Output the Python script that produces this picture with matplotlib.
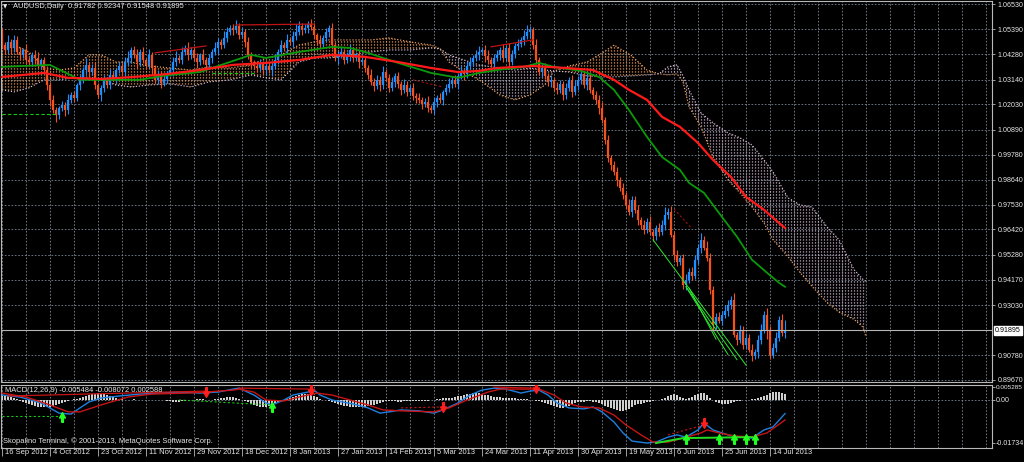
import numpy as np
import matplotlib
matplotlib.use("Agg")
import matplotlib.pyplot as plt
from matplotlib.path import Path
from matplotlib.transforms import blended_transform_factory as blend

plt.rcParams['font.family'] = ['Liberation Sans', 'DejaVu Sans']

# ---------------- data ----------------
date_ticks = [0, 16, 32, 48, 64, 80, 96, 112, 128, 144, 160, 176, 192, 208, 224, 240, 256]
date_labels = ['16 Sep 2012', '4 Oct 2012', '23 Oct 2012', '11 Nov 2012', '29 Nov 2012',
               '18 Dec 2012', '8 Jan 2013', '27 Jan 2013', '14 Feb 2013', '5 Mar 2013',
               '24 Mar 2013', '11 Apr 2013', '30 Apr 2013', '19 May 2013', '6 Jun 2013',
               '25 Jun 2013', '14 Jul 2013']
price_ticks = [1.06530, 1.05390, 1.04280, 1.03140, 1.02030, 1.00890, 0.99780, 0.98640,
               0.97530, 0.96420, 0.95280, 0.94170, 0.93030, 0.90780, 0.89670]
price_grid_extra = [0.91920]
last_price = 0.91895
first_open = 1.0520
macd_ticks = [0.005285, 0.0, -0.01734]
macd_tick_labels = ['0.005285', '0.00', '-0.01734']

closes = [
    1.0469, 1.0447, 1.0483, 1.0456, 1.0492, 1.0438, 1.0425, 1.0447, 1.0402, 1.0393,
    1.0425, 1.0411, 1.0380, 1.0402, 1.0357, 1.0290, 1.0223, 1.0178, 1.0156, 1.0187,
    1.0200, 1.0178, 1.0223, 1.0245, 1.0232, 1.0290, 1.0313, 1.0357, 1.0380, 1.0348,
    1.0366, 1.0290, 1.0245, 1.0277, 1.0313, 1.0290, 1.0335, 1.0322, 1.0357, 1.0375,
    1.0348, 1.0393, 1.0411, 1.0447, 1.0425, 1.0393, 1.0438, 1.0402, 1.0380, 1.0425,
    1.0366, 1.0313, 1.0335, 1.0299, 1.0317, 1.0344, 1.0357, 1.0393, 1.0411, 1.0402,
    1.0438, 1.0456, 1.0425, 1.0447, 1.0411, 1.0393, 1.0425, 1.0402, 1.0380, 1.0411,
    1.0438, 1.0456, 1.0483, 1.0469, 1.0501, 1.0527, 1.0545, 1.0536, 1.0554, 1.0514,
    1.0527, 1.0483, 1.0425, 1.0393, 1.0375, 1.0366, 1.0384, 1.0357, 1.0375, 1.0357,
    1.0375, 1.0402, 1.0438, 1.0469, 1.0456, 1.0492, 1.0483, 1.0510, 1.0527, 1.0554,
    1.0536, 1.0545, 1.0563, 1.0550, 1.0514, 1.0492, 1.0474, 1.0501, 1.0527, 1.0545,
    1.0469, 1.0411, 1.0425, 1.0438, 1.0402, 1.0420, 1.0447, 1.0411, 1.0429, 1.0393,
    1.0402, 1.0366, 1.0335, 1.0304, 1.0286, 1.0313, 1.0290, 1.0348, 1.0322, 1.0277,
    1.0304, 1.0330, 1.0295, 1.0268, 1.0290, 1.0259, 1.0277, 1.0241, 1.0232, 1.0223,
    1.0205, 1.0214, 1.0187, 1.0178, 1.0214, 1.0232, 1.0223, 1.0259, 1.0277, 1.0295,
    1.0313, 1.0295, 1.0330, 1.0348, 1.0339, 1.0375, 1.0393, 1.0411, 1.0425, 1.0438,
    1.0447, 1.0420, 1.0402, 1.0384, 1.0411, 1.0425, 1.0447, 1.0411, 1.0456, 1.0393,
    1.0429, 1.0465, 1.0474, 1.0492, 1.0510, 1.0527, 1.0536, 1.0469, 1.0402, 1.0348,
    1.0366, 1.0330, 1.0304, 1.0313, 1.0277, 1.0268, 1.0295, 1.0245, 1.0277, 1.0313,
    1.0259, 1.0286, 1.0313, 1.0339, 1.0290, 1.0322, 1.0268, 1.0245, 1.0223, 1.0187,
    1.0133, 1.0044, 0.9963, 0.9931, 0.9900, 0.9864, 0.9829, 0.9797, 0.9752, 0.9721,
    0.9775, 0.9730, 0.9685, 0.9663, 0.9640, 0.9676, 0.9631, 0.9614, 0.9649, 0.9631,
    0.9663, 0.9707, 0.9721, 0.9618, 0.9529, 0.9497, 0.9515, 0.9394, 0.9416, 0.9452,
    0.9434, 0.9506, 0.9560, 0.9596, 0.9560, 0.9515, 0.9372, 0.9215, 0.9251, 0.9233,
    0.9260, 0.9278, 0.9304, 0.9327, 0.9170, 0.9147, 0.9192, 0.9125, 0.9156, 0.9103,
    0.9076, 0.9094, 0.9147, 0.9192, 0.9260, 0.9192, 0.9081, 0.9112, 0.9156, 0.9237,
    0.9178, 0.91895,
]

upper_wick = [  # pips
    25, 15, 30, 12, 20, 18, 22, 10, 28, 15, 12, 20, 25, 10, 15, 18, 12, 20, 15, 10,
    18, 12, 25, 15, 20, 10, 22, 15, 30, 12, 18, 25, 10, 15, 20, 12, 28, 15, 10, 20,
    15, 22, 30, 12, 18, 25, 15, 20, 10, 28, 15, 12, 20, 18, 25, 10, 15, 22, 30, 12,
    20, 15, 25, 12, 18, 22, 10, 28, 15, 20, 12, 25, 18, 15, 30, 22, 12, 20, 28, 15,
    25, 12, 20, 15, 10, 18, 22, 15, 12, 20, 18, 25, 15, 22, 12, 28, 15, 20, 35, 25,
    15, 20, 12, 25, 18, 10, 22, 15, 20, 12, 25, 15, 18, 22, 12, 20, 28, 15, 10, 18,
    22, 15, 12, 25, 18, 20, 15, 28, 12, 18, 22, 15, 20, 12, 25, 18, 15, 20, 12, 22,
    15, 18, 25, 12, 20, 15, 22, 10, 18, 25, 15, 20, 12, 28, 15, 18, 22, 12, 20, 25,
    15, 20, 28, 12, 18, 22, 15, 25, 12, 20, 18, 15, 22, 12, 25, 30, 20, 15, 25, 12,
    18, 22, 15, 20, 12, 25, 18, 15, 22, 12, 20, 28, 15, 18, 12, 25, 20, 15, 18, 22,
    25, 15, 20, 12, 18, 22, 15, 20, 12, 28, 18, 15, 22, 12, 20, 18, 25, 12, 15, 20,
    22, 35, 18, 25, 15, 20, 12, 18, 25, 15, 22, 20, 15, 28, 18, 30, 20, 15, 18, 22,
    15, 25, 20, 18, 28, 12, 20, 15, 22, 18, 25, 12, 20, 25, 15, 30, 18, 20, 28, 15,
    25, 45,
]
lower_wick = [  # pips
    15, 20, 12, 25, 18, 10, 22, 15, 20, 12, 18, 25, 15, 20, 12, 22, 28, 15, 30, 20,
    12, 25, 18, 15, 20, 12, 22, 15, 18, 25, 12, 20, 15, 28, 18, 12, 20, 15, 25, 12,
    18, 20, 15, 22, 12, 25, 18, 15, 20, 12, 28, 15, 18, 22, 12, 20, 15, 25, 18, 12,
    20, 15, 22, 18, 12, 25, 15, 20, 18, 12, 22, 15, 25, 18, 12, 20, 15, 22, 12, 18,
    15, 22, 18, 25, 12, 20, 15, 18, 22, 12, 25, 15, 20, 18, 12, 22, 15, 25, 18, 12,
    20, 15, 22, 12, 18, 25, 15, 20, 12, 22, 18, 15, 25, 12, 20, 15, 22, 18, 12, 25,
    15, 20, 18, 12, 22, 15, 25, 18, 12, 20, 15, 22, 18, 25, 12, 20, 15, 18, 22, 12,
    25, 15, 20, 12, 18, 22, 15, 25, 12, 20, 18, 15, 22, 12, 25, 18, 15, 20, 12, 22,
    15, 25, 18, 12, 20, 15, 22, 18, 12, 25, 15, 20, 18, 12, 22, 15, 25, 18, 20, 12,
    22, 15, 18, 25, 12, 20, 15, 22, 18, 12, 25, 15, 20, 18, 12, 22, 15, 20, 18, 25,
    15, 20, 18, 22, 12, 25, 15, 20, 18, 12, 25, 15, 22, 18, 20, 12, 15, 25, 18, 20,
    15, 22, 18, 12, 25, 20, 15, 18, 22, 12, 20, 15, 18, 25, 12, 15, 20, 22, 18, 12,
    20, 15, 25, 18, 12, 22, 15, 20, 18, 12, 25, 15, 30, 18, 15, 40, 20, 15, 18, 12,
    15, 23,
]

# moving averages (bar index, price)
ma_green_bar = [0, 16, 26, 46, 53, 66, 76, 83, 88, 99, 110, 116, 121, 132, 143, 152, 159, 165,
                174, 179, 184, 193, 199, 204, 209, 215, 220, 226, 229, 234, 239, 245, 250, 255, 259, 261]
ma_green = [1.0371, 1.0380, 1.0313, 1.0313, 1.0330, 1.0348, 1.0393, 1.0425, 1.0411, 1.0438,
            1.0461, 1.0456, 1.0438, 1.0389, 1.0344, 1.0322, 1.0344, 1.0357, 1.0371, 1.0389,
            1.0371, 1.0353, 1.0326, 1.0268, 1.0178, 1.0057, 0.9967, 0.9909, 0.9851, 0.9806,
            0.9716, 0.9609, 0.9506, 0.9448, 0.9403, 0.9385]
ma_red_bar = [0, 14, 22, 33, 44, 55, 66, 77, 88, 99, 110, 121, 132, 143, 152, 159, 165, 177,
              188, 197, 204, 209, 215, 220, 226, 232, 237, 243, 248, 254, 259, 261]
ma_red = [1.0326, 1.0344, 1.0322, 1.0317, 1.0326, 1.0339, 1.0357, 1.0380, 1.0389, 1.0402,
          1.0425, 1.0416, 1.0393, 1.0366, 1.0348, 1.0353, 1.0366, 1.0375, 1.0366, 1.0357,
          1.0313, 1.0268, 1.0223, 1.0147, 1.0102, 1.0030, 0.9954, 0.9877, 0.9788, 0.9730,
          0.9671, 0.9649]

# Ichimoku cloud spans (bar index, price)
cloud_bar = [0, 4, 9, 14, 19, 24, 29, 33, 38, 43, 49, 56, 63, 69, 76, 83, 88, 93, 99, 104,
             109, 116, 123, 129, 136, 143, 146, 149, 154, 159, 166, 171, 176, 181, 184, 189, 195, 200, 204, 210,
             215, 219, 222, 225, 227, 229, 233, 237, 242, 246, 250, 254, 257, 262, 266, 270, 275, 279, 284, 287,
             288]
span_a = [1.0456, 1.0469, 1.0438, 1.0366, 1.0357, 1.0366, 1.0425, 1.0425, 1.0393, 1.0393,
          1.0375, 1.0366, 1.0357, 1.0371, 1.0366, 1.0380, 1.0411, 1.0425, 1.0469, 1.0483,
          1.0492, 1.0492, 1.0492, 1.0501, 1.0483, 1.0469, 1.0452, 1.0393, 1.0348, 1.0313,
          1.0245, 1.0223, 1.0245, 1.0290, 1.0353, 1.0375, 1.0393, 1.0433, 1.0469, 1.0420,
          1.0357, 1.0340, 1.0335, 1.0340, 1.0304, 1.0192, 1.0102, 0.9967, 0.9864, 0.9806,
          0.9743, 0.9671, 0.9596, 0.9520, 0.9449, 0.9387, 0.9314, 0.9271, 0.9239, 0.9204,
          0.9160]
span_b = [1.0268, 1.0259, 1.0277, 1.0313, 1.0313, 1.0322, 1.0326, 1.0313, 1.0290, 1.0281,
          1.0290, 1.0295, 1.0281, 1.0304, 1.0313, 1.0335, 1.0322, 1.0313, 1.0393, 1.0411,
          1.0411, 1.0425, 1.0438, 1.0447, 1.0447, 1.0456, 1.0452, 1.0425, 1.0402, 1.0380,
          1.0366, 1.0357, 1.0366, 1.0357, 1.0353, 1.0348, 1.0331, 1.0326, 1.0326, 1.0331,
          1.0335, 1.0340, 1.0371, 1.0380, 1.0331, 1.0268, 1.0165, 1.0120, 1.0075, 1.0053,
          1.0021, 0.9954, 0.9900, 0.9784, 0.9752, 0.9743, 0.9654, 0.9596, 0.9462, 0.9418,
          0.9409]

# trend lines on price: (bar0, price0, bar1, price1)
red_trends = [(51, 1.0434, 68, 1.0465), (78, 1.0559, 104, 1.0563), (163, 1.0461, 177, 1.0492)]
red_dotted_trends = [(137, 1.0313, 147, 1.0281), (224, 0.9734, 230, 0.9645)]
green_trends = [(217, 0.9596, 248, 0.9034), (228, 0.9385, 242, 0.9081), (228, 0.9385, 245, 0.9058),
                (229, 0.9380, 238, 0.9150)]
green_levels = [(0, 1.0160, 18, 1.0160), (70, 1.0344, 84, 1.0344)]

# MACD (values)
macd_bar = [0, 6, 13, 19, 23, 26, 29, 33, 39, 46, 53, 59, 66, 72, 77, 79, 84, 88, 90, 94,
            97, 102, 104, 106, 110, 117, 122, 126, 129, 133, 139, 144, 147, 152, 156, 160, 164, 168, 173, 176,
            179, 182, 185, 189, 194, 197, 200, 204, 207, 210, 215, 218, 222, 225, 228, 232, 234, 237, 242, 246,
            250, 254, 257, 261]
macd_line = [0.0020, 0.0012, -0.0012, -0.0053, -0.0057, -0.0032, -0.0008, 0.0008, 0.0016, 0.0024,
             0.0028, 0.0032, 0.0028, 0.0032, 0.0044, 0.0048, 0.0020, -0.0012, -0.0020, 0.0,
             0.0020, 0.0032, 0.0040, 0.0020, 0.0, -0.0016, -0.0032, -0.0053, -0.0048, -0.0040,
             -0.0044, -0.0053, -0.0040, -0.0012, 0.0020, 0.0040, 0.0048, 0.0044, 0.0028, 0.0036,
             0.0040, 0.0020, -0.0012, -0.0032, -0.0036, -0.0028, -0.0048, -0.0089, -0.0133, -0.0166,
             -0.0174, -0.0170, -0.0150, -0.0141, -0.0150, -0.0121, -0.0093, -0.0121, -0.0141, -0.0150,
             -0.0154, -0.0121, -0.0109, -0.0055]
signal_bar = [0, 8, 16, 22, 26, 33, 42, 50, 62, 68, 77, 79, 84, 88, 94, 99, 105, 110, 116, 122,
              127, 133, 144, 149, 155, 162, 166, 173, 179, 184, 188, 193, 199, 204, 208, 213, 217, 222, 227, 233,
              235, 239, 244, 250, 255, 261]
signal_line = [0.0028, 0.0012, -0.0020, -0.0048, -0.0048, -0.0020, 0.0012, 0.0024, 0.0028, 0.0032,
               0.0040, 0.0044, 0.0032, 0.0, -0.0004, 0.0012, 0.0028, 0.0020, 0.0, -0.0020,
               -0.0040, -0.0044, -0.0048, -0.0032, 0.0, 0.0032, 0.0044, 0.0044, 0.0044, 0.0020,
               -0.0012, -0.0028, -0.0032, -0.0061, -0.0101, -0.0141, -0.0170, -0.0170, -0.0154, -0.0133,
               -0.0121, -0.0133, -0.0145, -0.0150, -0.0133, -0.0081]
hist = [  # units of 0.0001, one per bar
    22, 20, 16, 12, 8, 4,
    -4, -8, -13, -17, -21, -24, -27, -29, -30, -30, -28, -25, -21, -16, -11, -7, -3,
    1, 3, 6, 10,
    14, 18, 21, 24, 26, 27, 26, 24, 20, 16, 12, 8, 5,
    3, 2, 1, 2, 3, 2, 1, 0, -1, 1, 2, 1, 0, -1,
    -2, -4, -6, -7, -8, -7, -6, -4, -2,
    0, 2, 3, 4, 3, 2, 1, 2, 4, 6, 8, 10, 12, 13, 12, 9, 5,
    0, -5, -10, -15, -20, -24, -27, -29, -28, -25, -20, -14, -8,
    -3, 1, 5,
    10, 14, 18, 21, 23, 24, 23, 20, 16, 11,
    6, 2, -2, -6,
    -10, -14, -18, -21, -24, -26, -28, -29, -30, -30, -29, -27, -25, -22, -19, -15, -11, -8, -5,
    -4, -5, -6, -7, -7, -6, -5, -4, -3, -4, -5, -6, -5, -3, -1,
    2, 4, 6, 7, 8, 9, 10, 12, 15,
    18, 21, 24, 26, 28, 28, 27, 25, 22, 19, 16, 14,
    12, 11, 10, 10, 9, 8, 7, 6, 5, 4, 3,
    1, -1, -3,
    -6, -10, -14, -18, -22, -26, -29, -31, -32, -30, -26, -20,
    -14, -10, -8, -7, -6, -6, -7, -9,
    -13, -18, -23, -28, -33, -38, -42, -44, -43, -40, -35, -28,
    -22, -18, -15, -13, -10, -8, -5, -2,
    2, 6, 10,
    15, 20, 23, 20, 14,
    8, 5, 8, 14,
    20, 26, 30, 28, 20, 10,
    0, -8, -14, -17, -18, -16, -12, -8,
    -5, -3, -1, 1, 2, 3, 5, 8,
    12, 17, 22, 27, 31, 33, 32, 29, 26,
]
sell_bar = [68, 103, 147, 178, 234]
sell_val = [0.0034, 0.0042, -0.0030, 0.0050, -0.0091]
buy_bar = [20, 90, 228, 239, 244, 248, 251]
buy_val = [-0.0069, -0.0028, -0.0156, -0.0156, -0.0156, -0.0156, -0.0156]
macd_red_trends = [(2, 0.0016, 68, 0.0036), (79, 0.0048, 104, 0.0044), (164, 0.0052, 178, 0.0048)]
macd_red_dotted = [(133, -0.0032, 147, -0.0028), (222, -0.0141, 234, -0.0101)]
macd_green_path_bar = [218, 227, 250]
macd_green_path_val = [-0.0174, -0.0154, -0.0150]
macd_green_dotted = [(0, -0.0065, 20, -0.0065), (59, 0.0, 90, -0.0020)]

# ---------------- style ----------------
W, H = 1024, 462
BG = 'black'
GRID = '#7a8592'
FRAME = '#b8b8b8'
TXT = '#e8e8e8'
BULL = '#1e8fff'
BEAR = '#f2521c'
SANDY = '#f4a460'
THISTLE = '#d8bfd8'
FS = 5.4
FSY = 5.1

fig = plt.figure(figsize=(W / 100, H / 100), dpi=100, facecolor=BG)
ax = fig.add_axes([1 / W, 1 - 382 / H, 991 / W, 381 / H])
mx = fig.add_axes([1 / W, 1 - 448 / H, 991 / W, 63 / H])
for a in (ax, mx):
    a.set_facecolor(BG)
    a.set_xlim(-1 / 3, 330)
    for s in a.spines.values():
        s.set_color(FRAME)
        s.set_linewidth(0.8)
    for b in range(0, 331, 8):
        a.axvline(b, color=GRID, lw=0.6, ls=(0, (2, 2)), zorder=0.5)
ax.set_ylim(0.89580, 1.06665)
mx.set_ylim(-0.0194, 0.00606)

# price grid
for p in price_ticks + price_grid_extra:
    ax.axhline(p, color=GRID, lw=0.6, ls=(0, (2, 2)), zorder=0.5)

# y ticks
ax.yaxis.tick_right()
ax.set_yticks(price_ticks)
ax.set_yticklabels([f'{p:.5f}' for p in price_ticks])
ax.tick_params(axis='y', colors=FRAME, labelcolor=TXT, labelsize=FSY, length=2.5, width=0.6, pad=1.5)
ax.tick_params(axis='x', bottom=False, labelbottom=False)

mx.yaxis.tick_right()
mx.set_yticks(macd_ticks)
mx.set_yticklabels(macd_tick_labels)
mx.tick_params(axis='y', colors=FRAME, labelcolor=TXT, labelsize=FSY, length=2, width=0.6, pad=1)
for lbl in mx.get_yticklabels():
    if lbl.get_text() == macd_tick_labels[0]:
        lbl.set_fontsize(4.6)
mx.set_xticks(date_ticks)
mx.tick_params(axis='x', colors=FRAME, length=6, width=0.6, labelbottom=False)
for t, lab in zip(date_ticks, date_labels):
    mx.annotate(lab, xy=(t, 0), xycoords=('data', 'axes fraction'), xytext=(3, -5),
                textcoords='offset pixels', ha='left', va='center', fontsize=FS, color=TXT,
                annotation_clip=False)

# ---------------- Ichimoku cloud ----------------
cx = np.array(cloud_bar, dtype=float)
ca = np.array(span_a)
cb = np.array(span_b)
m = min(len(cx), len(ca), len(cb))
cx, ca, cb = cx[:m], ca[:m], cb[:m]
cols = np.arange(0, int(cx.max()) + 1)
for mask, col in [(ca >= cb, SANDY), (cb >= ca, THISTLE)]:
    poly = ax.fill_between(cx, ca, cb, where=mask, interpolate=True,
                           facecolor='none', edgecolor='none', linewidth=0)
    paths = poly.get_paths()
    if not paths:
        continue
    clip = Path.make_compound_path(*paths)
    vl = ax.vlines(cols, 0.88, 1.08, colors=col, linewidth=0.9,
                   linestyles=[(0, (0.9, 1.5))], zorder=1)
    vl.set_clip_path(clip, ax.transData)
ax.plot(cx, ca, color=SANDY, lw=0.9, ls=(0, (0.9, 1.5)), zorder=1.2)
ax.plot(cx, cb, color=THISTLE, lw=0.9, ls=(0, (0.9, 1.5)), zorder=1.2)

# ---------------- candles ----------------
n = min(len(closes), len(upper_wick), len(lower_wick))
c = np.array(closes[:n])
o = np.concatenate([[first_open], c[:-1]])
x = np.arange(n)
top = np.maximum(o, c)
bot = np.minimum(o, c)
hi = top + np.array(upper_wick[:n]) * 1e-4
lo = bot - np.array(lower_wick[:n]) * 1e-4
colors = np.where(c >= o, BULL, BEAR)
ax.vlines(x, lo, hi, colors=colors, lw=0.8, zorder=2)
top_vis = np.where(top - bot < 0.0004, bot + 0.0004, top)
ax.vlines(x, bot, top_vis, colors=colors, lw=1.6, zorder=2.1)

# ---------------- moving averages ----------------
ax.plot(ma_green_bar[:len(ma_green)], ma_green[:len(ma_green_bar)], color='#0a9a0a', lw=1.3, zorder=3)
ax.plot(ma_red_bar[:len(ma_red)], ma_red[:len(ma_red_bar)], color='#ff1a1a', lw=1.6, zorder=3.1)

# trend lines
for b0, p0, b1, p1 in red_trends:
    ax.plot([b0, b1], [p0, p1], color='#c01414', lw=0.9, zorder=4)
for b0, p0, b1, p1 in red_dotted_trends:
    ax.plot([b0, b1], [p0, p1], color='#a01010', lw=0.8, ls=(0, (2, 2)), zorder=4)
for b0, p0, b1, p1 in green_trends:
    ax.plot([b0, b1], [p0, p1], color='#2ee82e', lw=0.7, zorder=4)
for b0, p0, b1, p1 in green_levels:
    ax.plot([b0, b1], [p0, p1], color='#14c814', lw=0.8, ls=(0, (3, 2)), zorder=4)

# current price line + label
ax.axhline(last_price, color='#b4b4b4', lw=0.8, zorder=4)
ax.text(1.003, last_price, f'{last_price:.5f}', transform=blend(ax.transAxes, ax.transData),
        fontsize=FSY, color='black', va='center', ha='left',
        bbox=dict(boxstyle='square,pad=0.18', fc='white', ec='white'), clip_on=False, zorder=6)

# ---------------- MACD ----------------
mx.axhline(0.0, color=GRID, lw=0.6, ls=(0, (2, 2)), zorder=0.5)
hv = np.array(hist) * 1e-4
mx.bar(np.arange(len(hv)), hv, width=0.62, color='#cfcfcf', linewidth=0, zorder=2)
mx.plot(macd_bar[:len(macd_line)], macd_line[:len(macd_bar)], color='#1f80e0', lw=1.0, zorder=3)
mx.plot(signal_bar[:len(signal_line)], signal_line[:len(signal_bar)], color='#c81414', lw=1.0, zorder=3)
for b0, v0, b1, v1 in macd_red_trends:
    mx.plot([b0, b1], [v0, v1], color='#c81414', lw=0.9, zorder=3)
for b0, v0, b1, v1 in macd_red_dotted:
    mx.plot([b0, b1], [v0, v1], color='#c81414', lw=0.8, ls=(0, (2, 2)), zorder=3)
mx.plot(macd_green_path_bar, macd_green_path_val, color='#22dd22', lw=1.4, zorder=3.2)
for b0, v0, b1, v1 in macd_green_dotted:
    mx.plot([b0, b1], [v0, v1], color='#14c814', lw=0.8, ls=(0, (2, 2)), zorder=3)

dv = [(-0.18, 1.0), (0.18, 1.0), (0.18, 0.1), (0.6, 0.1), (0.0, -1.0), (-0.6, 0.1), (-0.18, 0.1), (-0.18, 1.0)]
down_marker = Path(dv)
up_marker = Path([(px, -py) for px, py in dv])
mx.plot(sell_bar[:len(sell_val)], sell_val[:len(sell_bar)], ls='none', marker=down_marker, ms=7,
        color='#ff1e1e', mec='#ff1e1e', zorder=5)
mx.plot(buy_bar[:len(buy_val)], buy_val[:len(buy_bar)], ls='none', marker=up_marker, ms=7,
        color='#22ff22', mec='#22ff22', zorder=5)

# ---------------- texts ----------------
fig.text(3 / W, 1 - 7 / H, '\u25bc', color=TXT, fontsize=4, va='center', ha='left',
         family=['DejaVu Sans'])
fig.text(13 / W, 1 - 7 / H, 'AUDUSD,Daily  0.91782 0.92347 0.91548 0.91895', color=TXT,
         fontsize=FS, va='center', ha='left')
fig.text(5 / W, 1 - 390 / H, 'MACD(12,26,9) -0.005484 -0.008072 0.002588', color=TXT,
         fontsize=FS, va='center', ha='left')
fig.text(3 / W, 1 - 441 / H, 'Skopalino Terminal, \u00a9 2001-2013, MetaQuotes Software Corp.',
         color=TXT, fontsize=FS, va='center', ha='left')

fig.savefig('out.png', dpi=100, facecolor=BG)
